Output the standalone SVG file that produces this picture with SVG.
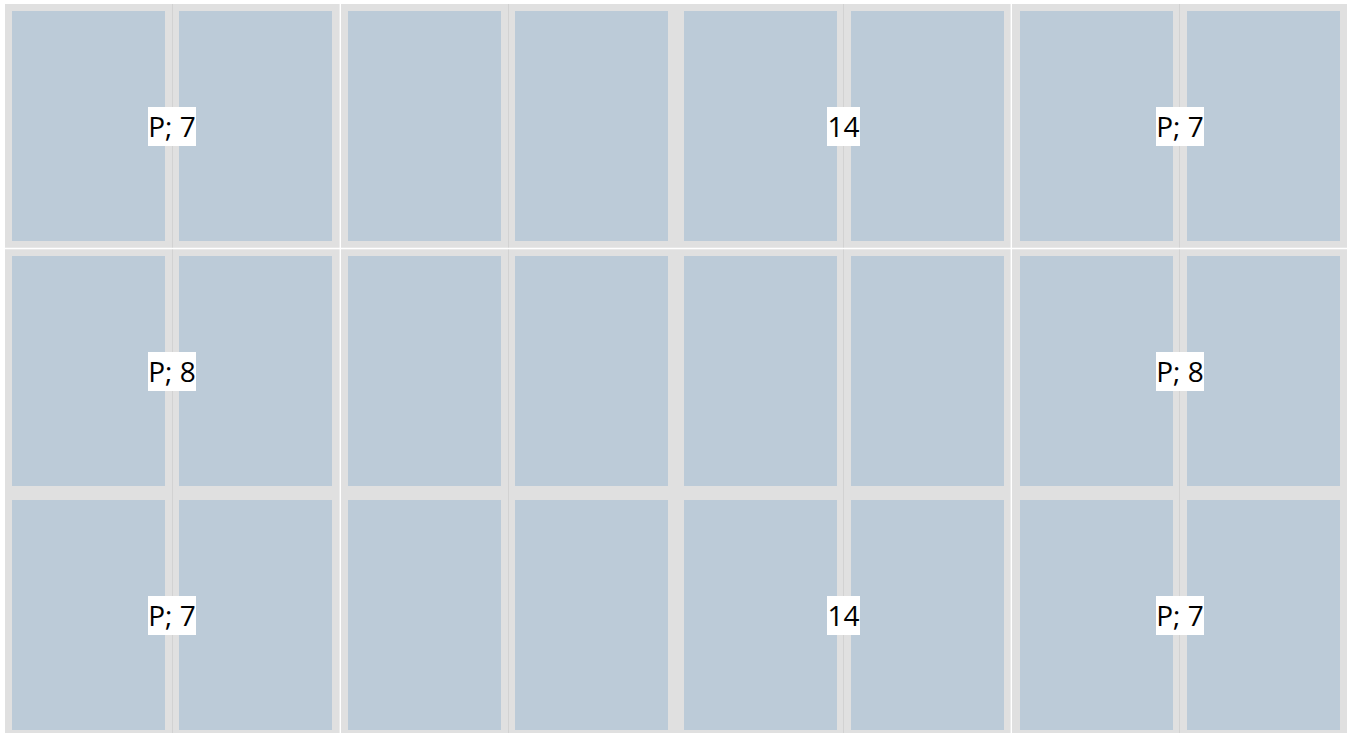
<svg xmlns="http://www.w3.org/2000/svg" width="1349" height="733" viewBox="0 0 1349 733">
  <style>
    .bg { fill: #e0e0e0; }
    .cell { fill: #bccbd8; }
    .sep { stroke: #d2d2d2; stroke-width: 1; }
    .gap { stroke: #ffffff; stroke-width: 1.4; }
    .lblbox { fill: #ffffff; }
    .lbl { font-family: "Open Sans", "Noto Sans", sans-serif; font-size: 28px; fill: #000000; text-anchor: middle; }
  </style>
  <rect x="0" y="0" width="1349" height="733" fill="#ffffff"/>
  <rect class="bg" x="5" y="4" width="1342" height="733"/>
  <g id="cells">
    <g id="row1">
      <rect class="cell" x="12" y="11" width="153" height="230"/>
      <rect class="cell" x="179" y="11" width="153" height="230"/>
      <rect class="cell" x="348" y="11" width="153" height="230"/>
      <rect class="cell" x="515" y="11" width="153" height="230"/>
      <rect class="cell" x="684" y="11" width="153" height="230"/>
      <rect class="cell" x="851" y="11" width="153" height="230"/>
      <rect class="cell" x="1020" y="11" width="153" height="230"/>
      <rect class="cell" x="1187" y="11" width="153" height="230"/>
    </g>
    <g id="row2">
      <rect class="cell" x="12" y="256" width="153" height="230"/>
      <rect class="cell" x="179" y="256" width="153" height="230"/>
      <rect class="cell" x="348" y="256" width="153" height="230"/>
      <rect class="cell" x="515" y="256" width="153" height="230"/>
      <rect class="cell" x="684" y="256" width="153" height="230"/>
      <rect class="cell" x="851" y="256" width="153" height="230"/>
      <rect class="cell" x="1020" y="256" width="153" height="230"/>
      <rect class="cell" x="1187" y="256" width="153" height="230"/>
    </g>
    <g id="row3">
      <rect class="cell" x="12" y="500" width="153" height="230"/>
      <rect class="cell" x="179" y="500" width="153" height="230"/>
      <rect class="cell" x="348" y="500" width="153" height="230"/>
      <rect class="cell" x="515" y="500" width="153" height="230"/>
      <rect class="cell" x="684" y="500" width="153" height="230"/>
      <rect class="cell" x="851" y="500" width="153" height="230"/>
      <rect class="cell" x="1020" y="500" width="153" height="230"/>
      <rect class="cell" x="1187" y="500" width="153" height="230"/>
    </g>
  </g>
  <g id="separators">
    <line class="sep" x1="172.5" y1="4" x2="172.5" y2="733"/>
    <line class="sep" x1="508.5" y1="4" x2="508.5" y2="733"/>
    <line class="sep" x1="843.5" y1="4" x2="843.5" y2="733"/>
    <line class="sep" x1="1179.5" y1="4" x2="1179.5" y2="733"/>
    <line class="gap" x1="340.3" y1="4" x2="340.3" y2="733"/>
    <line class="gap" x1="1011.3" y1="4" x2="1011.3" y2="733"/>
    <line class="gap" x1="5" y1="248.5" x2="1347" y2="248.5"/>
  </g>
  <g id="labels">
    <g id="label-r1-left"><rect class="lblbox" x="148" y="107" width="48" height="39"/><text class="lbl" x="172" y="137">P; 7</text></g>
    <g id="label-r1-mid"><rect class="lblbox" x="827" y="107" width="33" height="39"/><text class="lbl" x="843.5" y="137">14</text></g>
    <g id="label-r1-right"><rect class="lblbox" x="1156" y="107" width="48" height="39"/><text class="lbl" x="1180" y="137">P; 7</text></g>
    <g id="label-r2-left"><rect class="lblbox" x="148" y="352" width="48" height="39"/><text class="lbl" x="172" y="382">P; 8</text></g>
    <g id="label-r2-right"><rect class="lblbox" x="1156" y="352" width="48" height="39"/><text class="lbl" x="1180" y="382">P; 8</text></g>
    <g id="label-r3-left"><rect class="lblbox" x="148" y="596" width="48" height="39"/><text class="lbl" x="172" y="626">P; 7</text></g>
    <g id="label-r3-mid"><rect class="lblbox" x="827" y="596" width="33" height="39"/><text class="lbl" x="843.5" y="626">14</text></g>
    <g id="label-r3-right"><rect class="lblbox" x="1156" y="596" width="48" height="39"/><text class="lbl" x="1180" y="626">P; 7</text></g>
  </g>
</svg>
